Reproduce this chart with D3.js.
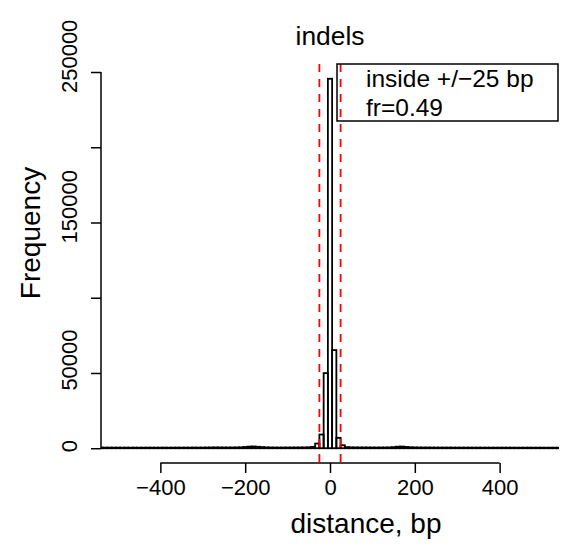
<!DOCTYPE html>
<html>
<head>
<meta charset="utf-8">
<script src="https://cdnjs.cloudflare.com/ajax/libs/d3/7.8.5/d3.min.js"></script>
<style>
  body { margin: 0; background: #fff; }
  text { font-family: "Liberation Sans", Arial, sans-serif; fill: #000; }
  .tick { font-size: 22px; }
  .label { font-size: 26.4px; }
  .axlab { font-size: 28px; }
  .leg { font-size: 24.5px; }
</style>
</head>
<body>
<svg id="chart"></svg>
<script>
// histogram bin edges, 10 bp wide
var breaks = d3.range(-545, 550, 10);

// counts per bin, left tail / core / right tail
var leftTail = [420, 390, 410, 380, 400, 370, 390, 360, 380, 350, 370, 360, 380, 350, 370,
  390, 360, 380, 400, 380, 410, 390, 420, 400, 430, 450, 480, 520, 500, 470, 460, 480,
  520, 600, 780, 1050, 1150, 950, 720, 560, 480, 440, 430, 440, 450, 460, 480, 500, 520];
var core = [600, 900, 3100, 9100, 49900, 245500, 65200, 6900, 2000, 700, 550];
var rightTail = [520, 500, 480, 470, 460, 450, 460, 470, 520, 700, 1000, 1100, 850, 620,
  520, 480, 460, 440, 430, 420, 410, 400, 420, 400, 390, 410, 380, 400, 370, 390, 360,
  380, 350, 370, 360, 380, 350, 370, 340, 360, 350, 370, 340, 360, 350, 330, 350, 340, 330];
var counts = leftTail.concat(core, rightTail);

var xLim = [-500, 500];
var xTicks = [-400, -200, 0, 200, 400];
var yTicks = [0, 50000, 100000, 150000, 200000, 250000];
var yTickLabels = ["0", "50000", "", "150000", "", "250000"]; // R drops the ones that overlap
var windowBp = 25;
var legendLines = ["inside +/\u221225 bp", "fr=0.49"];

var w = 563;
var h = 548;
var plot = { left: 101, right: 559, top: 64, bottom: 463 };

var svg = d3.select("#chart")
  .attr("width", w)
  .attr("height", h);

// R style 4% axis extension
var xPad = (xLim[1] - xLim[0]) * 0.04;
var xScale = d3.scaleLinear()
  .domain([xLim[0] - xPad, xLim[1] + xPad])
  .range([plot.left, plot.right]);

var yMax = d3.max(counts);
var yScale = d3.scaleLinear()
  .domain([-0.04 * yMax, 1.04 * yMax])
  .range([plot.bottom, plot.top]);

svg.append("clipPath")
  .attr("id", "clip")
  .append("rect")
  .attr("x", plot.left)
  .attr("y", plot.top)
  .attr("width", plot.right - plot.left)
  .attr("height", plot.bottom - plot.top);

var bins = counts.map(function(c, i) {
  return { x0: breaks[i], x1: breaks[i + 1], n: c };
});

svg.append("g")
  .attr("clip-path", "url(#clip)")
  .selectAll("rect")
  .data(bins)
  .enter()
  .append("rect")
  .attr("x", function(d) { return xScale(d.x0); })
  .attr("y", function(d) { return yScale(d.n); })
  .attr("width", function(d) { return xScale(d.x1) - xScale(d.x0); })
  .attr("height", function(d) { return yScale(0) - yScale(d.n); })
  .attr("fill", "none")
  .attr("stroke", "#000")
  .attr("stroke-width", 1.8);

// x axis
var xAxis = d3.axisBottom(xScale)
  .tickValues(xTicks)
  .tickSize(10)
  .tickPadding(6)
  .tickSizeOuter(0)
  .tickFormat(function(d) { return d < 0 ? "\u2212" + Math.abs(d) : d; });

var gx = svg.append("g")
  .attr("class", "tick")
  .attr("transform", "translate(0," + plot.bottom + ")")
  .call(xAxis);
gx.select(".domain")
  .attr("d", "M" + xScale(xTicks[0]) + ",0H" + xScale(xTicks[xTicks.length - 1]));
gx.selectAll("line, path").attr("stroke", "#000").attr("stroke-width", 1.5);
gx.selectAll("text").attr("font-size", 22).attr("dy", "0.71em");

// y axis with rotated labels
var yAxis = d3.axisLeft(yScale)
  .tickValues(yTicks)
  .tickSize(10)
  .tickSizeOuter(0)
  .tickFormat(function(d, i) { return yTickLabels[i]; });

var gy = svg.append("g")
  .attr("class", "tick")
  .attr("transform", "translate(" + plot.left + ",0)")
  .call(yAxis);
gy.select(".domain")
  .attr("d", "M0," + yScale(yTicks[0]) + "V" + yScale(yTicks[yTicks.length - 1]));
gy.selectAll("line, path").attr("stroke", "#000").attr("stroke-width", 1.5);
// labels in the reference sit a bit above their ticks (about a fifth of their length)
gy.selectAll("text")
  .attr("font-size", 22)
  .attr("x", 0)
  .attr("dy", 0)
  .attr("text-anchor", "middle")
  .attr("transform", function() {
    var len = this.getComputedTextLength();
    return "translate(-24," + (-0.22 * len) + ") rotate(-90)";
  });

// red dashed window lines
svg.selectAll(".win")
  .data([-windowBp, windowBp])
  .enter()
  .append("line")
  .attr("class", "win")
  .attr("x1", function(d) { return xScale(d); })
  .attr("x2", function(d) { return xScale(d); })
  .attr("y1", plot.top)
  .attr("y2", plot.bottom)
  .attr("stroke", "#ff0000")
  .attr("stroke-width", 1.8)
  .attr("stroke-dasharray", "8,7");

// legend box, top right of plot region
svg.append("rect")
  .attr("x", 337)
  .attr("y", plot.top)
  .attr("width", plot.right - 1 - 337)
  .attr("height", 57)
  .attr("fill", "none")
  .attr("stroke", "#000")
  .attr("stroke-width", 1.5);

svg.selectAll(".leg")
  .data(legendLines)
  .enter()
  .append("text")
  .attr("class", "leg")
  .attr("x", 366)
  .attr("y", function(d, i) { return 87 + i * 28.5; })
  .text(function(d) { return d; });

// titles
svg.append("text")
  .attr("class", "label")
  .attr("x", (plot.left + plot.right) / 2)
  .attr("y", 45)
  .attr("text-anchor", "middle")
  .text("indels");

svg.append("text")
  .attr("class", "axlab")
  .attr("x", 366)
  .attr("y", 533)
  .attr("text-anchor", "middle")
  .text("distance, bp");

svg.append("text")
  .attr("class", "axlab")
  .attr("text-anchor", "middle")
  .attr("transform", "translate(40,233) rotate(-90)")
  .text("Frequency");
</script>
</body>
</html>
